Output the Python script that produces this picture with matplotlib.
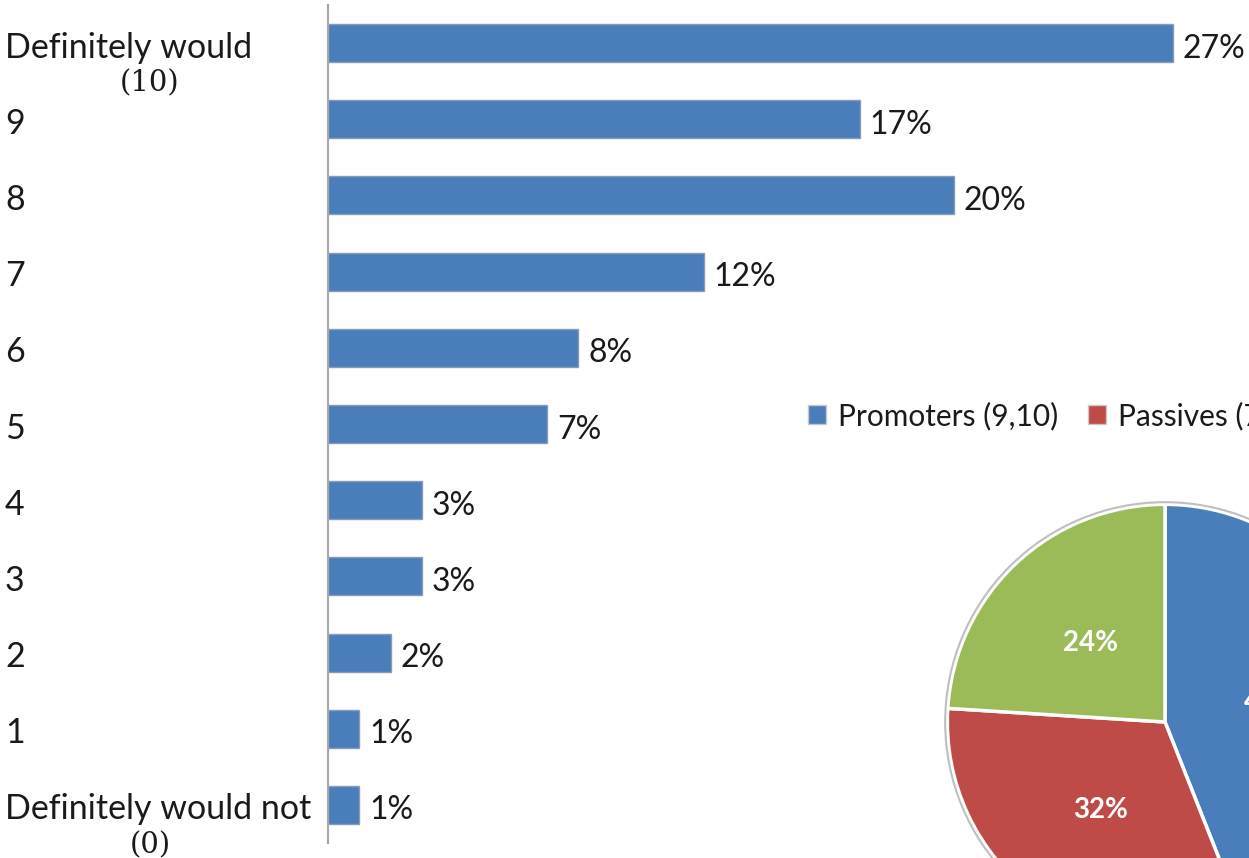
import matplotlib
matplotlib.use("Agg")
import matplotlib.pyplot as plt
from matplotlib import transforms
from matplotlib.patches import Patch, Circle

# likelihood-to-recommend scores, top row first
scores = ["Definitely would", "9", "8", "7", "6", "5", "4", "3", "2", "1", "Definitely would not"]
score_notes = ["(10)", "", "", "", "", "", "", "", "", "", "(0)"]
share = [27, 17, 20, 12, 8, 7, 3, 3, 2, 1, 1]

# NPS groups
groups = ["Promoters (9,10)", "Passives (7,8)", "Detractors (0-6)"]
group_share = [44, 32, 24]

BLUE = "#4A7EBB"
RED = "#BE4B48"
GREEN = "#9BBB59"
TXT = "#1a1a1a"

plt.rcParams["font.family"] = ["Lato", "DejaVu Sans"]

W, H = 1249, 858
fig = plt.figure(figsize=(W / 100, H / 100), dpi=100)

# bar chart
ax = fig.add_axes([328 / W, (H - 843) / H, (W - 328) / W, 838 / H])
ypos = list(range(len(scores) - 1, -1, -1))
bars = ax.barh(ypos, share, height=0.5, color=BLUE, edgecolor="#8a9bb3", linewidth=1)
ax.set_xlim(0, (W - 328) / 31.3)
ax.set_ylim(-0.5, 10.5)
for y, v in zip(ypos, share):
    ax.annotate(f"{v}%", (v, y), xytext=(7, -4), textcoords="offset points",
                ha="left", va="center", fontsize=23, color=TXT)
for s in ["top", "right", "bottom"]:
    ax.spines[s].set_visible(False)
ax.spines["left"].set_color("#a6a6a6")
ax.spines["left"].set_linewidth(1.5)
ax.set_xticks([])
ax.set_yticks([])

# category labels sit at the left edge of the figure
tr = transforms.blended_transform_factory(fig.transFigure, ax.transData)
for y, name, note in zip(ypos, scores, score_notes):
    ax.text(5 / W, y - 0.06, name, transform=tr, ha="left", va="center", fontsize=24.5, color=TXT)
    if note:
        ax.text(150 / W, y - 0.53, note, transform=tr, ha="center", va="center",
                fontsize=21, color=TXT, family="DejaVu Serif")

# pie of NPS groups, partly off the right edge
cx, cy, r = 1165, H - 722, 222
pax = fig.add_axes([(cx - r) / W, (cy - r) / H, 2 * r / W, 2 * r / H])
wedges, _, autotexts = pax.pie(group_share, colors=[BLUE, RED, GREEN], startangle=90,
                               counterclock=False, autopct=lambda p: f"{p:.0f}%",
                               pctdistance=0.5,
                               wedgeprops=dict(edgecolor="white", linewidth=2.5))
for t in autotexts:
    t.set_color("white")
    t.set_fontsize(20)
    t.set_fontweight("bold")
pax.add_patch(Circle((0, 0), 1.01, fill=False, edgecolor="#bfbfbf", linewidth=1.5))
pax.set_xlim(-1.02, 1.02)
pax.set_ylim(-1.02, 1.02)
pax.set_aspect("equal")
pax.axis("off")

handles = [Patch(facecolor=c, edgecolor="#c8c8c8", linewidth=1) for c in [BLUE, RED, GREEN]]
fig.legend(handles, groups, ncol=3, loc="center left",
           bbox_to_anchor=(808 / W, (H - 416) / H), frameon=False, fontsize=21.5,
           handlelength=0.6, handleheight=0.6, handletextpad=0.4, columnspacing=1.0,
           borderpad=0, borderaxespad=0, labelcolor=TXT)

fig.savefig("out.png", dpi=100)
